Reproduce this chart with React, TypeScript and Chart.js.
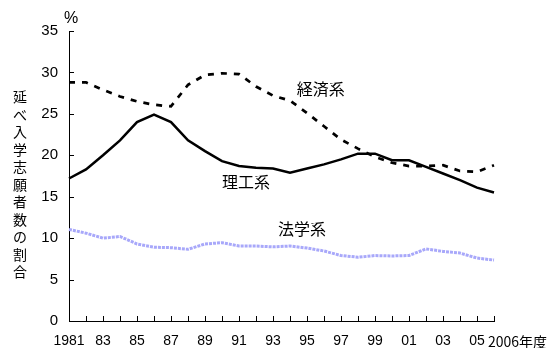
import React, { useEffect, useRef } from "react";
import { Chart, registerables } from "chart.js";

Chart.register(...registerables);

const years = [1981, 1982, 1983, 1984, 1985, 1986, 1987, 1988, 1989, 1990, 1991, 1992, 1993, 1994, 1995, 1996, 1997, 1998, 1999, 2000, 2001, 2002, 2003, 2004, 2005, 2006];
const xTickLabels = ["1981", "", "83", "", "85", "", "87", "", "89", "", "91", "", "93", "", "95", "", "97", "", "99", "", "01", "", "03", "", "05", "2006年度"];
const rikoValues = [17.2, 18.3, 20.0, 21.8, 24.0, 24.9, 24.0, 21.8, 20.5, 19.3, 18.7, 18.5, 18.4, 17.9, 18.4, 18.9, 19.5, 20.2, 20.2, 19.4, 19.4, 18.6, 17.8, 17.0, 16.1, 15.5];
const keizaiValues = [28.8, 28.8, 27.9, 27.1, 26.5, 26.1, 25.9, 28.5, 29.7, 29.9, 29.8, 28.3, 27.2, 26.6, 25.1, 23.5, 21.9, 20.8, 19.8, 19.1, 18.7, 18.7, 18.8, 18.1, 18.0, 18.8];
const hogakuValues = [11.05, 10.6, 10.0, 10.2, 9.3, 8.9, 8.85, 8.65, 9.3, 9.45, 9.05, 9.05, 8.95, 9.05, 8.8, 8.45, 7.9, 7.7, 7.9, 7.85, 7.9, 8.7, 8.4, 8.2, 7.6, 7.35];
const yTicks = [0, 5, 10, 15, 20, 25, 30, 35];
const yTitle = "延べ入学志願者数の割合";
const unitLabel = "%";
const seriesNames = ["理工系", "経済系", "法学系"];

const FONT = "'Liberation Sans', Arial, 'Noto Sans CJK JP', sans-serif";
const JFONT = "'Noto Sans CJK JP', 'Liberation Sans', sans-serif";

const decorPlugin = {
  id: "decor",
  afterDraw(chart: any) {
    const ctx = chart.ctx;
    const xs = chart.scales.x;
    const ys = chart.scales.y;
    const area = chart.chartArea;
    ctx.save();
    ctx.strokeStyle = "#000";
    ctx.lineWidth = 1;
    yTicks.forEach((v) => {
      const py = Math.round(ys.getPixelForValue(v)) + 0.5;
      ctx.beginPath();
      ctx.moveTo(area.left, py);
      ctx.lineTo(area.left + 5, py);
      ctx.stroke();
    });
    years.forEach((_, i) => {
      const px = Math.round(xs.getPixelForValue(i)) + 0.5;
      ctx.beginPath();
      ctx.moveTo(px, area.bottom);
      ctx.lineTo(px, area.bottom - 5);
      ctx.stroke();
    });
    ctx.fillStyle = "#000";
    ctx.font = "14px " + JFONT;
    ctx.textAlign = "left";
    ctx.textBaseline = "middle";
    ctx.fillText(xTickLabels[xTickLabels.length - 1], xs.getPixelForValue(years.length - 1) - 6, 342);
    ctx.font = "16px " + FONT;
    ctx.textAlign = "center";
    ctx.fillText(unitLabel, area.left + 2, 19);
    ctx.font = "14px " + JFONT;
    const chars = Array.from(yTitle);
    chars.forEach((c, i) => {
      ctx.fillText(c, 20, 97 + i * 17.5);
    });
    ctx.font = "16px " + JFONT;
    ctx.textAlign = "left";
    ctx.fillText(seriesNames[1], xs.getPixelForValue(13.4), 89);
    ctx.fillText(seriesNames[0], xs.getPixelForValue(9.0), 182);
    ctx.fillText(seriesNames[2], xs.getPixelForValue(12.3), 229);
    ctx.restore();
  },
};

export default function App() {
  const ref = useRef<HTMLCanvasElement | null>(null);
  useEffect(() => {
    if (!ref.current) return;
    const chart = new Chart(ref.current, {
      type: "line",
      data: {
        labels: years.map(String),
        datasets: [
          {
            label: seriesNames[0],
            data: rikoValues,
            borderColor: "#000",
            borderWidth: 2.5,
            pointRadius: 0,
            tension: 0,
          },
          {
            label: seriesNames[1],
            data: keizaiValues,
            borderColor: "#000",
            borderWidth: 2.7,
            borderDash: [6, 7],
            pointRadius: 0,
            tension: 0,
          },
          {
            label: seriesNames[2],
            data: hogakuValues,
            borderColor: "#a8a8fa",
            borderWidth: 3,
            borderDash: [3, 1],
            pointRadius: 0,
            tension: 0,
          },
        ],
      },
      options: {
        animation: false,
        responsive: false,
        maintainAspectRatio: false,
        layout: { padding: { left: 0, right: 63, top: 31, bottom: 0 } },
        plugins: { legend: { display: false }, tooltip: { enabled: false } },
        scales: {
          x: {
            offset: false,
            grid: { display: false, drawTicks: false },
            border: { display: true, color: "#000", width: 1 },
            ticks: {
              autoSkip: false,
              maxRotation: 0,
              minRotation: 0,
              padding: 12,
              color: "#000",
              font: { size: 14, family: FONT },
              callback: (_v: any, i: number) => (i === years.length - 1 ? "" : xTickLabels[i]),
            },
            afterFit: (s: any) => {
              s.height = 27;
            },
          },
          y: {
            min: 0,
            max: 35,
            grid: { display: false, drawTicks: false },
            border: { display: true, color: "#000", width: 1 },
            ticks: {
              stepSize: 5,
              padding: 11,
              color: "#000",
              font: { size: 15, family: FONT },
            },
            afterFit: (s: any) => {
              s.width = 69;
            },
          },
        },
      },
      plugins: [decorPlugin],
    });
    return () => chart.destroy();
  }, []);
  return (
    <div style={{ position: "fixed", left: 0, top: 0, width: 557, height: 348, background: "#fff" }}>
      <canvas ref={ref} width={557} height={348} style={{ display: "block" }} />
    </div>
  );
}
